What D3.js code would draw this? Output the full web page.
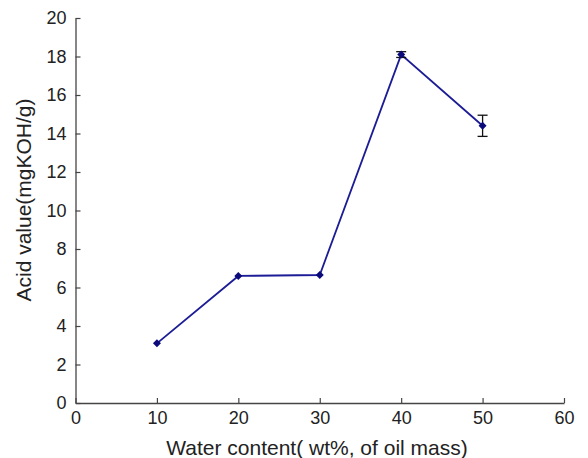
<!DOCTYPE html>
<html>
<head>
<meta charset="utf-8">
<script src="https://cdn.jsdelivr.net/npm/d3@7"></script>
<style>
  body { margin: 0; background: #fff; }
  text { font-family: "Liberation Sans", Arial, sans-serif; fill: #222; }
</style>
</head>
<body>
<svg id="chart" width="588" height="458"></svg>
<script>
const waterContent = [10, 20, 30, 40, 50];
const acidValue = [3.1, 6.6, 6.65, 18.1, 14.4];
const acidError = [0, 0, 0, 0.15, 0.55];
const xTicks = [0, 10, 20, 30, 40, 50, 60];
const yTicks = [0, 2, 4, 6, 8, 10, 12, 14, 16, 18, 20];

const svg = d3.select("#chart");
const margin = {top: 18, right: 24, bottom: 55, left: 75.5};
const width = +svg.attr("width") - margin.left - margin.right;
const height = +svg.attr("height") - margin.top - margin.bottom;
const g = svg.append("g").attr("transform", "translate(" + margin.left + "," + margin.top + ")");

const x = d3.scaleLinear().domain([0, 60]).range([0, width]);
const y = d3.scaleLinear().domain([0, 20]).range([height, 0]);

const data = waterContent.map((w, i) => ({x: w, y: acidValue[i], e: acidError[i]}));

// axes, ticks point inward
const xAxis = g.append("g")
    .attr("transform", "translate(0," + height + ")")
    .call(d3.axisBottom(x).tickValues(xTicks).tickSize(-5).tickPadding(6).tickSizeOuter(0));
const yAxis = g.append("g")
    .call(d3.axisLeft(y).tickValues(yTicks).tickSize(-5).tickPadding(9).tickSizeOuter(0));

[xAxis, yAxis].forEach(a => {
    a.select(".domain").attr("stroke", "#444").attr("stroke-width", 1.3);
    a.selectAll(".tick line").attr("stroke", "#444").attr("stroke-width", 1.2);
    a.selectAll(".tick text").style("font-size", "18px").attr("fill", "#222");
});
xAxis.selectAll(".tick text").attr("dy", "0.85em");

// line
const line = d3.line().x(d => x(d.x)).y(d => y(d.y));
g.append("path")
    .datum(data)
    .attr("fill", "none")
    .attr("stroke", "#1c1c96")
    .attr("stroke-width", 1.8)
    .attr("d", line);

// error bars (only where an error is given)
const err = g.selectAll(".err").data(data.filter(d => d.e > 0)).enter().append("g").attr("class", "err")
    .attr("stroke", "#111").attr("stroke-width", 1.3);
err.append("line")
    .attr("x1", d => x(d.x)).attr("x2", d => x(d.x))
    .attr("y1", d => y(d.y - d.e)).attr("y2", d => y(d.y + d.e));
err.append("line")
    .attr("x1", d => x(d.x) - 5).attr("x2", d => x(d.x) + 5)
    .attr("y1", d => y(d.y + d.e)).attr("y2", d => y(d.y + d.e));
err.append("line")
    .attr("x1", d => x(d.x) - 5).attr("x2", d => x(d.x) + 5)
    .attr("y1", d => y(d.y - d.e)).attr("y2", d => y(d.y - d.e));

// diamond markers (square turned 45deg)
g.selectAll(".pt").data(data).enter().append("path")
    .attr("class", "pt")
    .attr("transform", d => "translate(" + x(d.x) + "," + y(d.y) + ") rotate(45)")
    .attr("d", d3.symbol().type(d3.symbolSquare).size(32))
    .attr("fill", "#0a0a7a");

// axis titles
svg.append("text")
    .attr("x", 317)
    .attr("y", 455)
    .attr("text-anchor", "middle")
    .style("font-size", "21px")
    .text("Water content( wt%, of oil mass)");

svg.append("text")
    .attr("transform", "translate(25,200) rotate(-90)")
    .attr("text-anchor", "middle")
    .attr("dominant-baseline", "middle")
    .style("font-size", "21px")
    .text("Acid value(mgKOH/g)");
</script>
</body>
</html>
